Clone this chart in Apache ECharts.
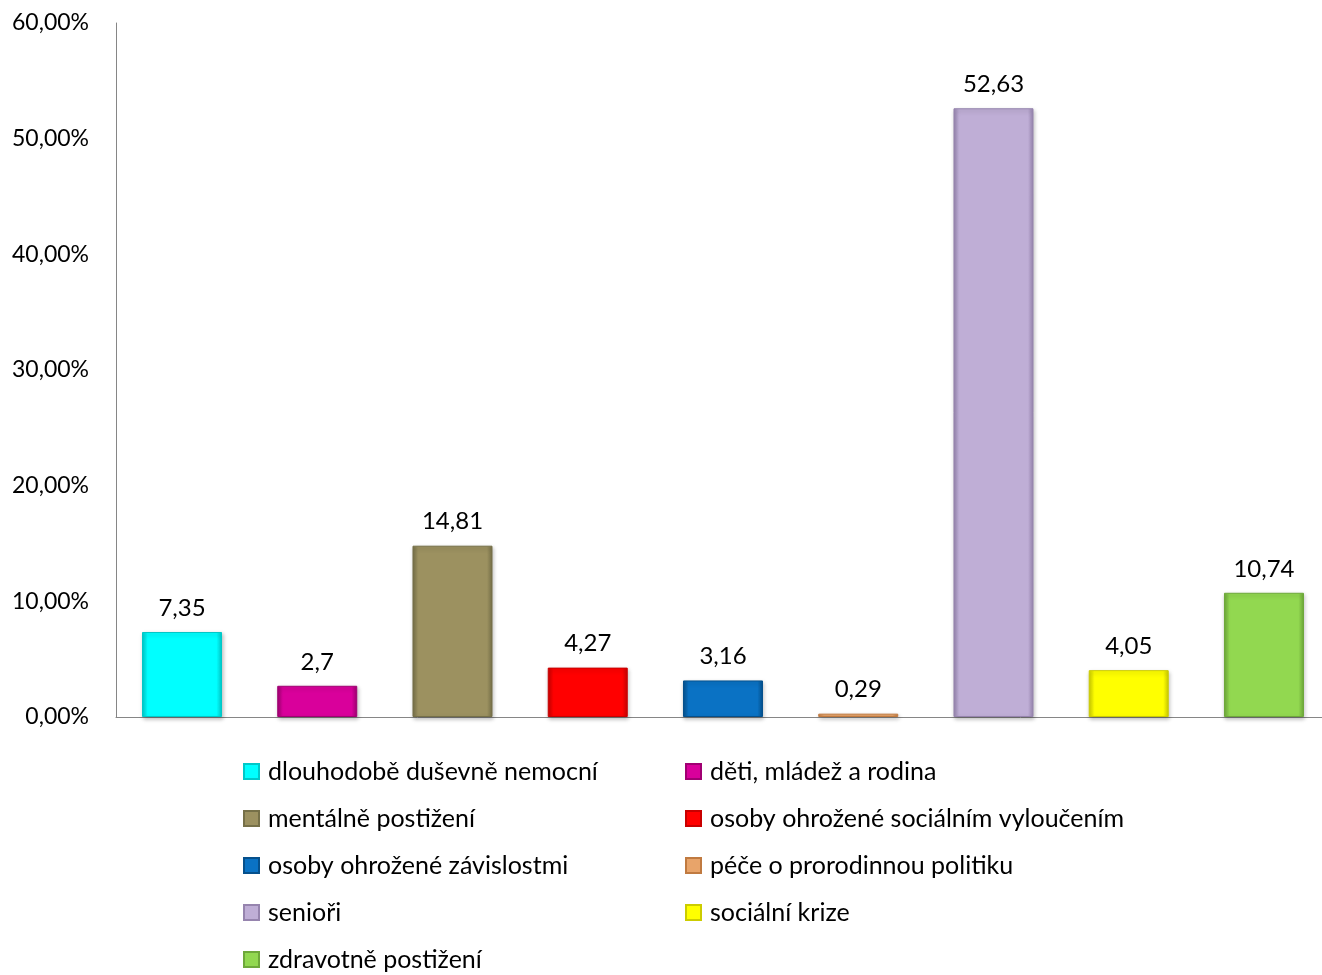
<!DOCTYPE html>
<html>
<head>
<meta charset="utf-8">
<script src="https://cdn.jsdelivr.net/npm/echarts@6/dist/echarts.min.js"></script>
<style>
html,body{margin:0;padding:0;background:#fff;}
#chart{width:1322px;height:975px;}
</style>
</head>
<body>
<div id="chart"></div>
<script>
const seriesNames = [
  'dlouhodobě duševně nemocní',
  'děti, mládež a rodina',
  'mentálně postižení',
  'osoby ohrožené sociálním vyloučením',
  'osoby ohrožené závislostmi',
  'péče o prorodinnou politiku',
  'senioři',
  'sociální krize',
  'zdravotně postižení'
];
const seriesValues = [7.35, 2.7, 14.81, 4.27, 3.16, 0.29, 52.63, 4.05, 10.74];
const seriesColors = ['#00FFFF', '#D9009B', '#9C9160', '#FF0000', '#0A72C4', '#E8A46A', '#BFAED6', '#FFFF00', '#92D850'];
const edgeColors   = ['#00C8C8', '#A00072', '#767048', '#C80000', '#05508C', '#C07A40', '#9684AE', '#CCCC00', '#6EA83A'];
const yMin = 0, yMax = 60, yInterval = 10;

const FONT = 'Lato, "Open Sans", sans-serif';
const fmt = v => String(v).replace('.', ',');

const chart = echarts.init(document.getElementById('chart'), null, {renderer: 'canvas'});

const series = seriesNames.map((name, i) => ({
  name: name,
  type: 'bar',
  data: [[i + 1, seriesValues[i]]],
  barWidth: 80,
  barGap: '-100%',
  itemStyle: {
    color: new echarts.graphic.LinearGradient(0, 0, 1, 0, [
      {offset: 0, color: edgeColors[i]},
      {offset: 0.07, color: seriesColors[i]},
      {offset: 0.93, color: seriesColors[i]},
      {offset: 1, color: edgeColors[i]}
    ]),
    borderColor: edgeColors[i],
    borderWidth: 1,
    shadowColor: 'rgba(0,0,0,0.25)',
    shadowBlur: 4,
    shadowOffsetX: 1,
    shadowOffsetY: 2
  },
  label: {
    show: true,
    position: 'top',
    distance: 12,
    formatter: p => fmt(p.value[1]),
    fontFamily: FONT,
    fontSize: 24,
    color: '#000'
  }
}));

const col1 = seriesNames.filter((_, i) => i % 2 === 0);
const col2 = seriesNames.filter((_, i) => i % 2 === 1);
const legendCommon = {
  orient: 'vertical',
  top: 759,
  height: 240,
  itemWidth: 15,
  itemHeight: 15,
  itemGap: 22,
  icon: 'rect',
  selectedMode: false,
  padding: 0,
  textStyle: {fontFamily: FONT, fontSize: 25, color: '#000', lineHeight: 25, padding: [0, 0, 0, 4]}
};

chart.setOption({
  animation: false,
  color: seriesColors,
  grid: {left: 116, top: 23, right: 0, height: 694, containLabel: false},
  legend: [
    Object.assign({}, legendCommon, {left: 243, data: col1}),
    Object.assign({}, legendCommon, {left: 685, data: col2})
  ],
  xAxis: {
    type: 'value',
    min: 0.512,
    max: 9.429,
    splitLine: {show: false},
    axisLine: {show: true, onZero: false, lineStyle: {color: '#868686', width: 1}},
    axisTick: {show: false},
    axisLabel: {show: false}
  },
  yAxis: {
    type: 'value',
    min: yMin,
    max: yMax,
    interval: yInterval,
    splitLine: {show: false},
    axisLine: {show: true, onZero: false, lineStyle: {color: '#868686', width: 1}},
    axisTick: {show: false},
    axisLabel: {
      margin: 27,
      fontFamily: FONT,
      fontSize: 23,
      color: '#000',
      formatter: v => v.toFixed(2).replace('.', ',') + '%'
    }
  },
  series: series
});
</script>
</body>
</html>
